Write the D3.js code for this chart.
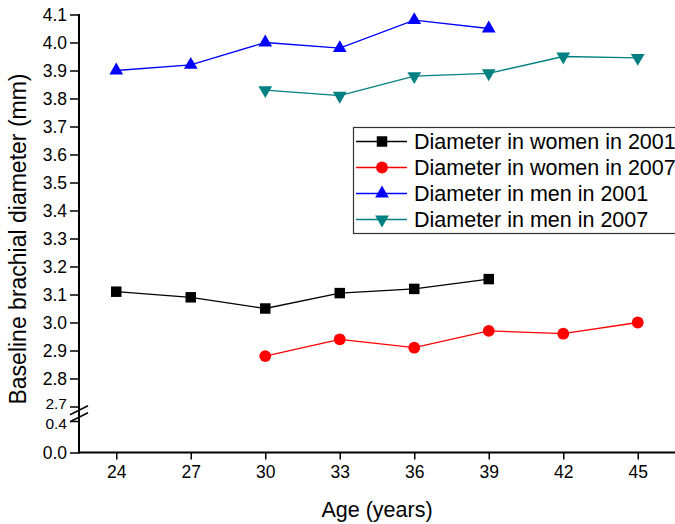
<!DOCTYPE html>
<html>
<head>
<meta charset="utf-8">
<script src="https://cdn.jsdelivr.net/npm/d3@7"></script>
<style>
  html, body { margin: 0; padding: 0; background: #fff; }
  svg { display: block; font-family: Arial, "Liberation Sans", sans-serif; }
</style>
</head>
<body>
<svg id="chart" width="675" height="524"></svg>
<script>
// Age groups (years) and baseline brachial diameter (mm) per group
const agesWomen2001 = [24, 27, 30, 33, 36, 39];
const women2001 = [3.11, 3.09, 3.05, 3.105, 3.12, 3.155];
const agesWomen2007 = [30, 33, 36, 39, 42, 45];
const women2007 = [2.88, 2.94, 2.91, 2.97, 2.96, 3.00];
const agesMen2001 = [24, 27, 30, 33, 36, 39];
const men2001 = [3.90, 3.92, 4.00, 3.98, 4.08, 4.05];
const agesMen2007 = [30, 33, 36, 39, 42, 45];
const men2007 = [3.83, 3.81, 3.88, 3.89, 3.95, 3.945];

const xTicks = [24, 27, 30, 33, 36, 39, 42, 45];
const yTicksUpper = [2.7, 2.8, 2.9, 3.0, 3.1, 3.2, 3.3, 3.4, 3.5, 3.6, 3.7, 3.8, 3.9, 4.0, 4.1];
const yTicksLower = [0.0, 0.4];

const seriesNames = [
  "Diameter in women in 2001",
  "Diameter in women in 2007",
  "Diameter in men in 2001",
  "Diameter in men in 2007"
];

const series = [
  { name: seriesNames[0], ages: agesWomen2001, values: women2001, color: "#000000", symbol: d3.symbolSquare, size: 110, rot: 0 },
  { name: seriesNames[1], ages: agesWomen2007, values: women2007, color: "#ff0000", symbol: d3.symbolCircle, size: 110, rot: 0 },
  { name: seriesNames[2], ages: agesMen2001, values: men2001, color: "#0000ff", symbol: d3.symbolTriangle, size: 82, rot: 0 },
  { name: seriesNames[3], ages: agesMen2007, values: men2007, color: "#008080", symbol: d3.symbolTriangle, size: 82, rot: 180 }
];

const FONT = 'Arial, "Liberation Sans", sans-serif';
const svg = d3.select("#chart");
const axisX = 79, axisBottom = 452.5;

const x = d3.scaleLinear().domain([22.5, 46.5]).range([axisX, 675]);
// Broken y axis: an upper segment for the data and a short lower segment near zero
const yUpper = d3.scaleLinear().domain([2.7, 4.1]).range([406.5, 14.5]);
const yLower = d3.scaleLinear().domain([0, 0.4]).range([axisBottom, 421]);
const y = v => (v >= 2.7 ? yUpper(v) : yLower(v));

const tickFont = "17.5px";

// X axis
const gx = svg.append("g")
  .attr("transform", `translate(0,${axisBottom})`)
  .call(d3.axisBottom(x).tickValues(xTicks).tickSize(7).tickPadding(6).tickFormat(d3.format("d")));
gx.attr("font-family", FONT);
gx.select(".domain").remove();
gx.selectAll(".tick line").attr("stroke", "#000").attr("stroke-width", 1.5);
gx.selectAll(".tick text").attr("font-size", tickFont).attr("font-family", FONT).attr("fill", "#000");
gx.append("line").attr("x1", axisX).attr("x2", 675).attr("y1", 0).attr("y2", 0)
  .attr("stroke", "#000").attr("stroke-width", 2);

// Y axis, both segments
const fmt = d3.format(".1f");
[[yUpper, yTicksUpper], [yLower, yTicksLower]].forEach(([sc, tv]) => {
  const g = svg.append("g")
    .attr("transform", `translate(${axisX},0)`)
    .call(d3.axisLeft(sc).tickValues(tv).tickSize(9).tickPadding(3).tickFormat(fmt));
  g.attr("font-family", FONT);
  g.select(".domain").remove();
  g.selectAll(".tick line").attr("stroke", "#000").attr("stroke-width", 1.5);
  g.selectAll(".tick text").attr("font-size", tickFont).attr("font-family", FONT).attr("fill", "#000");
});
// the labels either side of the break sit close together; set them a little smaller and apart
svg.selectAll(".tick text").filter(d => d === 2.7).attr("font-size", "15.5px").attr("dy", "0.15em");
svg.selectAll(".tick text").filter(d => d === 0.4).attr("font-size", "15.5px").attr("dy", "0.5em");

svg.append("line").attr("x1", axisX).attr("x2", axisX).attr("y1", 14).attr("y2", axisBottom + 1)
  .attr("stroke", "#000").attr("stroke-width", 2);

// Break marks across the y axis
const breakMid = (yUpper(2.7) + yLower(0.4)) / 2;
[breakMid - 3.5, breakMid + 3.5].forEach(by => {
  svg.append("line")
    .attr("x1", axisX - 9).attr("y1", by + 4.5)
    .attr("x2", axisX + 9).attr("y2", by - 4.5)
    .attr("stroke", "#000").attr("stroke-width", 1.5);
});

// Series lines and markers
const line = d3.line().x(d => x(d[0])).y(d => y(d[1]));
series.forEach(s => {
  const pts = s.ages.map((a, i) => [a, s.values[i]]);
  svg.append("path").datum(pts)
    .attr("d", line).attr("fill", "none")
    .attr("stroke", s.color).attr("stroke-width", 1.3);
  svg.append("g").selectAll("path").data(pts).join("path")
    .attr("d", d3.symbol().type(s.symbol).size(s.size))
    .attr("transform", d => `translate(${x(d[0])},${y(d[1])}) rotate(${s.rot})`)
    .attr("fill", s.color);
});

// Legend
const lg = svg.append("g");
lg.append("rect")
  .attr("x", 353.5).attr("y", 127.5).attr("width", 340).attr("height", 106)
  .attr("fill", "#fff").attr("stroke", "#333").attr("stroke-width", 1.2);
series.forEach((s, i) => {
  const ly = 141.5 + i * 26;
  lg.append("line").attr("x1", 356).attr("x2", 407).attr("y1", ly).attr("y2", ly)
    .attr("stroke", s.color).attr("stroke-width", 1.3);
  lg.append("path")
    .attr("d", d3.symbol().type(s.symbol).size(s.size))
    .attr("transform", `translate(382,${ly}) rotate(${s.rot})`)
    .attr("fill", s.color);
  lg.append("text").attr("x", 414).attr("y", ly).attr("dy", "0.36em")
    .attr("font-size", "21.5px").attr("fill", "#000").text(s.name);
});

// Axis titles
svg.append("text").attr("x", 377).attr("y", 517)
  .attr("text-anchor", "middle").attr("font-size", "21.5px").text("Age (years)");
svg.append("text")
  .attr("transform", "translate(26,239) rotate(-90)")
  .attr("text-anchor", "middle").attr("font-size", "23px")
  .text("Baseline brachial diameter (mm)");
</script>
</body>
</html>
